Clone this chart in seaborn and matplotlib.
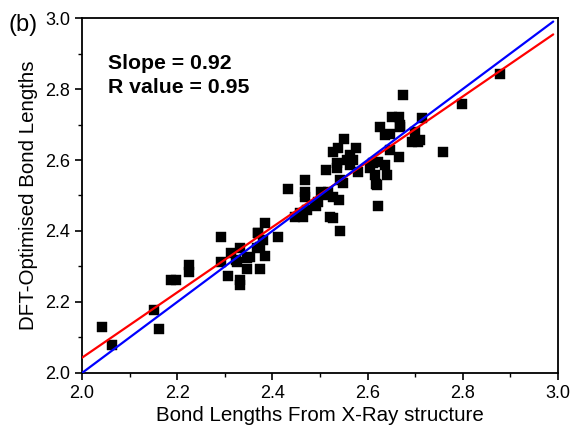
import matplotlib
matplotlib.use("Agg")
import matplotlib.pyplot as plt
import seaborn as sns
import numpy as np
from matplotlib.ticker import MultipleLocator

# Bond lengths (X-ray vs DFT-optimised)
xray = [2.041, 2.062, 2.152, 2.162, 2.187, 2.197, 2.225, 2.225, 2.291, 2.291,
        2.307, 2.314, 2.324, 2.325, 2.332, 2.333, 2.333, 2.346, 2.346, 2.353,
        2.367, 2.370, 2.374, 2.374, 2.384, 2.370, 2.384, 2.381, 2.412, 2.433,
        2.447, 2.458, 2.465, 2.468, 2.468, 2.468, 2.472, 2.489, 2.492, 2.496,
        2.503, 2.507, 2.514, 2.517, 2.521, 2.513, 2.528, 2.527, 2.540, 2.527,
        2.542, 2.535, 2.535, 2.538, 2.550, 2.556, 2.563, 2.570, 2.563, 2.576,
        2.580, 2.542, 2.549, 2.605, 2.612, 2.616, 2.619, 2.622, 2.618, 2.622,
        2.637, 2.640, 2.626, 2.637, 2.647, 2.651, 2.665, 2.668, 2.667, 2.668,
        2.675, 2.693, 2.700, 2.706, 2.710, 2.714, 2.647, 2.759, 2.798, 2.878]
dft = [2.130, 2.079, 2.177, 2.124, 2.262, 2.262, 2.304, 2.285, 2.384, 2.314,
       2.273, 2.337, 2.318, 2.313, 2.351, 2.262, 2.248, 2.292, 2.323, 2.326,
       2.351, 2.394, 2.292, 2.356, 2.330, 2.394, 2.423, 2.375, 2.384, 2.517,
       2.440, 2.450, 2.440, 2.544, 2.511, 2.497, 2.459, 2.473, 2.470, 2.483,
       2.511, 2.508, 2.502, 2.511, 2.440, 2.572, 2.623, 2.496, 2.487, 2.437,
       2.400, 2.591, 2.577, 2.633, 2.658, 2.600, 2.614, 2.600, 2.586, 2.633,
       2.567, 2.544, 2.534, 2.577, 2.591, 2.558, 2.530, 2.595, 2.532, 2.470,
       2.586, 2.558, 2.694, 2.670, 2.673, 2.722, 2.720, 2.694, 2.609, 2.699,
       2.783, 2.652, 2.680, 2.651, 2.656, 2.717, 2.628, 2.622, 2.758, 2.842]

# Linear fit shown in the reference
slope = 0.92
intercept = 0.203
r_value = 0.95
line_x = [2.0, 2.99]

sns.set_style("ticks")
plt.rcParams['font.family'] = ['Liberation Sans', 'DejaVu Sans']
plt.rcParams.update({'text.color': 'black', 'axes.labelcolor': 'black',
                     'xtick.color': 'black', 'ytick.color': 'black',
                     'axes.edgecolor': 'black'})

fig = plt.figure(figsize=(5.75, 4.33), dpi=100)
ax = fig.add_axes([0.1426, 0.1386, 0.8278, 0.8198])

sns.scatterplot(x=xray, y=dft, marker='s', color='black', s=42,
                edgecolor='black', linewidth=0.3, ax=ax, zorder=2)

fit_y = [intercept + slope * v for v in line_x]
sns.lineplot(x=line_x, y=fit_y, color='#ff0000', linewidth=1.6, ax=ax, zorder=3)
sns.lineplot(x=line_x, y=line_x, color='#0000ff', linewidth=1.6, ax=ax, zorder=3)

ax.set_xlim(2.0, 3.0)
ax.set_ylim(2.0, 3.0)
ax.xaxis.set_major_locator(MultipleLocator(0.2))
ax.yaxis.set_major_locator(MultipleLocator(0.2))
ax.xaxis.set_minor_locator(MultipleLocator(0.1))
ax.yaxis.set_minor_locator(MultipleLocator(0.1))
ax.tick_params(which='major', direction='out', length=5, width=1.2, labelsize=13)
ax.tick_params(which='minor', direction='out', length=3, width=1.0)
for sp in ax.spines.values():
    sp.set_linewidth(1.3)
    sp.set_color('black')
    sp.set_visible(True)

ax.set_xlabel('Bond Lengths From X-Ray structure', fontsize=14.8, labelpad=3)
ax.set_ylabel('DFT-Optimised Bond Lengths', fontsize=14.8, labelpad=5)

ax.text(2.055, 2.873, 'Slope = %.2f' % slope, fontsize=15.3, fontweight='bold',
        va='center', ha='left')
ax.text(2.055, 2.803, 'R value = %.2f' % r_value, fontsize=15.3, fontweight='bold',
        va='center', ha='left')

fig.text(0.014, 0.943, '(b)', fontsize=17, ha='left', va='center')

plt.savefig('out.png', dpi=100)
